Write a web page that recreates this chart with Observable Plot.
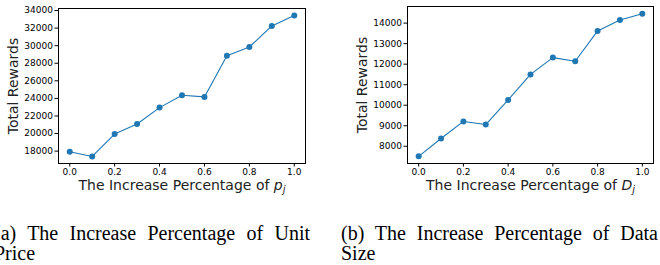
<!DOCTYPE html>
<html><head><meta charset="utf-8">
<script src="https://cdn.jsdelivr.net/npm/d3@7"></script>
<script src="https://cdn.jsdelivr.net/npm/@observablehq/plot@0.6"></script>
<style>
html,body{margin:0;padding:0;background:#fff;}
#wrap{position:relative;width:660px;height:265px;overflow:hidden;}
.panel{position:absolute;top:0;}
.cap{position:absolute;font-family:"Liberation Serif","Times New Roman",serif;font-size:20px;line-height:20px;white-space:nowrap;color:#000;}
.j{text-align:justify;text-align-last:justify;white-space:normal;}
</style>
</head><body>
<div id="wrap">
  <div class="panel" id="pa" style="left:0"></div>
  <div class="panel" id="pb" style="left:330px"></div>
  <div class="cap j" style="left:-6px;top:223px;width:316px">(a) The Increase Percentage of Unit</div>
  <div class="cap" style="left:-6px;top:243px">Price</div>
  <div class="cap j" style="left:341px;top:223px;width:317px">(b) The Increase Percentage of Data</div>
  <div class="cap" style="left:341px;top:243px">Size</div>
</div>
<script>
const pct = [0.0, 0.1, 0.2, 0.3, 0.4, 0.5, 0.6, 0.7, 0.8, 0.9, 1.0];
const rewardsPrice = [17920, 17390, 19940, 21090, 22950, 24360, 24170, 28860, 29850, 32250, 33430];
const rewardsData = [7510, 8380, 9210, 9060, 10260, 11500, 12320, 12140, 13620, 14150, 14460];
const xTicks = [0.0, 0.2, 0.4, 0.6, 0.8, 1.0];
const yTicksPrice = [18000, 20000, 22000, 24000, 26000, 28000, 30000, 32000, 34000];
const yTicksData = [8000, 9000, 10000, 11000, 12000, 13000, 14000];
const yLabel = "Total Rewards";
const xLabelBase = "The Increase Percentage of ";
const symA = "p", symB = "D";

function chart(values, yTicks, yDomain, m, sym, yLabelDx) {
  const data = pct.map((x, i) => ({x, y: values[i]}));
  const svg = Plot.plot({
    width: 330, height: 200,
    marginLeft: m.l, marginRight: m.r, marginTop: m.t, marginBottom: m.b,
    style: {fontFamily: "DejaVu Sans, sans-serif", fontSize: "9px", color: "#000", background: "#fff"},
    x: {domain: [-0.05, 1.05]},
    y: {domain: yDomain},
    marks: [
      Plot.axisX({ticks: xTicks, tickFormat: d3.format(".1f"), tickSize: 3.5, tickPadding: 2, label: null, fontSize: 9}),
      Plot.axisY({ticks: yTicks, tickFormat: d3.format("d"), tickSize: 3.5, tickPadding: 2, label: null, fontSize: 9}),
      Plot.frame({stroke: "#000", strokeWidth: 1}),
      Plot.line(data, {x: "x", y: "y", stroke: "#1f77b4", strokeWidth: 1.1}),
      Plot.dot(data, {x: "x", y: "y", fill: "#1f77b4", r: 3}),
      Plot.text([yLabel], {frameAnchor: "left", textAnchor: "middle", dx: yLabelDx, rotate: -90, fontSize: 14, fill: "#222", text: d => d}),
      Plot.text([xLabelBase], {frameAnchor: "bottom", textAnchor: "middle", dy: 26, fontSize: 14, fill: "#222", text: d => d, className: "xlab"})
    ]
  });
  const t = d3.select(svg).select(".xlab text");
  t.text(null);
  t.append("tspan").text(xLabelBase);
  t.append("tspan").attr("font-style", "italic").text(sym);
  t.append("tspan").attr("font-style", "italic").attr("font-size", 10).attr("dy", 3).text("j");
  return svg;
}

document.getElementById("pa").append(chart(rewardsPrice, yTicksPrice, [16590, 34230], {l: 58, r: 25, t: 8, b: 37}, symA, -45));
document.getElementById("pb").append(chart(rewardsData, yTicksData, [7160, 14810], {l: 77, r: 7, t: 6, b: 37}, symB, -45));
</script>
</body></html>
